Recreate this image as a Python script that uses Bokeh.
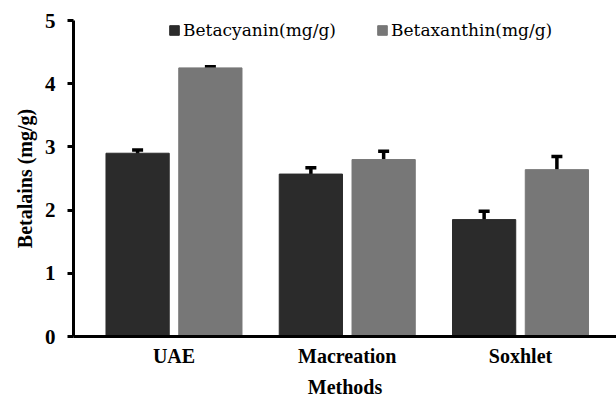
from bokeh.plotting import figure
from bokeh.models import ColumnDataSource, Range1d, Whisker, TeeHead, Legend, LegendItem, FixedTicker
from bokeh.embed import file_html
from bokeh.resources import INLINE

methods = ["UAE", "Macreation", "Soxhlet"]
betacyanin = [2.90, 2.57, 1.85]
betacyanin_err = [0.05, 0.10, 0.13]
betaxanthin = [4.25, 2.80, 2.64]
betaxanthin_err = [0.02, 0.13, 0.21]
series_names = ["Betacyanin(mg/g)", "Betaxanthin(mg/g)"]
y_ticks = [0, 1, 2, 3, 4, 5]

FONT = "Liberation Serif"
LEG_FONT = "DejaVu Serif"
DARK = "#2b2b2b"
LIGHT = "#777777"

idx = list(range(len(methods)))
off = 0.21
w = 0.365

src1 = ColumnDataSource(dict(x=[i - off for i in idx], top=betacyanin,
                             upper=[v + e for v, e in zip(betacyanin, betacyanin_err)],
                             lower=[v - e for v, e in zip(betacyanin, betacyanin_err)]))
src2 = ColumnDataSource(dict(x=[i + off for i in idx], top=betaxanthin,
                             upper=[v + e for v, e in zip(betaxanthin, betaxanthin_err)],
                             lower=[v - e for v, e in zip(betaxanthin, betaxanthin_err)]))

p = figure(width=616, height=402, output_backend="svg", toolbar_location=None,
           x_range=Range1d(-0.580, 2.554), y_range=Range1d(0, 5),
           min_border_left=73, min_border_right=0, min_border_top=20, min_border_bottom=66)
p.outline_line_color = None
p.xgrid.grid_line_color = None
p.ygrid.grid_line_color = None
p.background_fill_color = "white"
p.border_fill_color = "white"

r1 = p.vbar(x="x", top="top", width=w, source=src1, fill_color=DARK, line_color=DARK)
r2 = p.vbar(x="x", top="top", width=w, source=src2, fill_color=LIGHT, line_color=LIGHT)

for s in (src1, src2):
    wk = Whisker(base="x", upper="upper", lower="lower", source=s,
                 line_color="black", line_width=3.5,
                 upper_head=TeeHead(size=11, line_width=3.5, line_color="black"),
                 lower_head=TeeHead(size=11, line_width=3.5, line_color="black"))
    p.add_layout(wk)

p.xaxis.ticker = FixedTicker(ticks=idx)
p.xaxis.major_label_overrides = {i: m for i, m in enumerate(methods)}
p.xaxis.major_tick_line_color = None
p.xaxis.minor_tick_line_color = None
p.xaxis.axis_line_width = 3
p.xaxis.axis_line_color = "black"
p.xaxis.major_label_text_font = FONT
p.xaxis.major_label_text_font_style = "bold"
p.xaxis.major_label_text_font_size = "20px"
p.xaxis.major_label_text_color = "black"
p.xaxis.major_label_standoff = 2
p.xaxis.axis_label = "Methods"
p.xaxis.axis_label_text_font = FONT
p.xaxis.axis_label_text_font_style = "bold"
p.xaxis.axis_label_text_font_size = "20px"
p.xaxis.axis_label_text_color = "black"
p.xaxis.axis_label_standoff = 6

p.yaxis.ticker = FixedTicker(ticks=y_ticks)
p.yaxis.minor_tick_line_color = None
p.yaxis.axis_line_width = 3
p.yaxis.major_tick_line_width = 3
p.yaxis.major_tick_out = 6
p.yaxis.major_tick_in = 0
p.yaxis.major_label_text_font = FONT
p.yaxis.major_label_text_font_style = "bold"
p.yaxis.major_label_text_font_size = "21px"
p.yaxis.major_label_text_color = "black"
p.yaxis.major_label_standoff = 12
p.yaxis.axis_label = "Betalains (mg/g)"
p.yaxis.axis_label_text_font = FONT
p.yaxis.axis_label_text_font_style = "bold"
p.yaxis.axis_label_text_font_size = "20px"
p.yaxis.axis_label_text_color = "black"
p.yaxis.axis_label_standoff = 6

legend = Legend(items=[LegendItem(label=series_names[0], renderers=[r1]),
                       LegendItem(label=series_names[1], renderers=[r2])],
                location=(95, 296), orientation="horizontal",
                background_fill_alpha=0, border_line_color=None,
                label_text_font=LEG_FONT, label_text_font_size="17px",
                label_text_color="black",
                glyph_width=12, glyph_height=12, spacing=40, padding=0, margin=0,
                label_standoff=3)
p.add_layout(legend)

open("out.html", "w").write(file_html(p, INLINE))
